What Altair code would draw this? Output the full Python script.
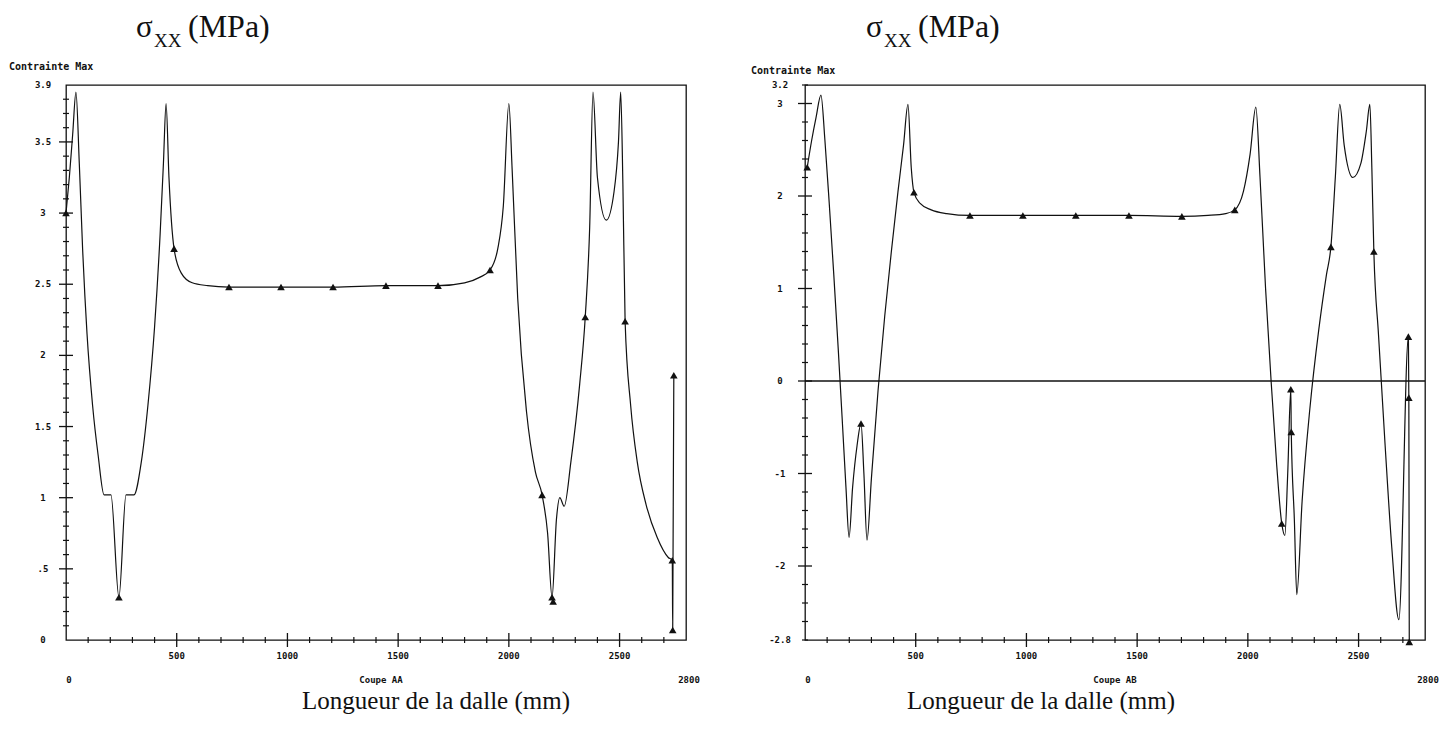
import altair as alt
import pandas as pd

# ---------------- data ----------------
# Left panel: Coupe AA  (x in mm, sigma_xx in MPa)
AA_X = [0, 15, 30, 45, 60, 75, 95, 120, 145, 172, 203, 239, 271, 307, 340, 370, 400, 425, 440, 452,
        465, 488, 520, 570, 640, 736, 971, 1206, 1445, 1680, 1800, 1870, 1915, 1950, 1975, 2000, 2015,
        2040, 2080, 2120, 2150, 2175, 2195, 2215, 2230, 2250, 2280, 2320, 2345, 2365, 2380, 2400, 2440,
        2475, 2495, 2505, 2515, 2525, 2550, 2580, 2620, 2670, 2720, 2738, 2740, 2745]
AA_Y = [3.00, 3.25, 3.55, 3.85, 3.35, 2.75, 2.15, 1.65, 1.30, 1.02, 1.02, 0.30, 1.02, 1.02, 1.25, 1.65,
        2.20, 2.85, 3.35, 3.77, 3.25, 2.75, 2.58, 2.51, 2.49, 2.48, 2.48, 2.48, 2.49, 2.49, 2.51, 2.55,
        2.60, 2.75, 3.05, 3.77, 3.30, 2.40, 1.60, 1.18, 1.02, 0.75, 0.30, 0.85, 1.00, 0.94, 1.25, 1.80,
        2.27, 2.90, 3.85, 3.25, 2.95, 3.15, 3.50, 3.85, 3.20, 2.24, 1.65, 1.25, 0.95, 0.72, 0.58, 0.56,
        0.07, 1.86]
AA_MX = [0, 239, 488, 736, 971, 1206, 1445, 1680, 1915, 2150, 2195, 2200, 2345, 2525, 2738, 2740, 2745]
AA_MY = [3.00, 0.30, 2.75, 2.48, 2.48, 2.48, 2.49, 2.49, 2.60, 1.02, 0.30, 0.27, 2.27, 2.24, 0.56, 0.07, 1.86]

# Right panel: Coupe AB
AB_X = [10, 30, 50, 72, 90, 110, 130, 150, 170, 185, 199, 215, 235, 253, 266, 280, 300, 330, 360, 390,
        420, 445, 465, 480, 492, 520, 570, 640, 745, 984, 1223, 1463, 1702, 1820, 1900, 1941, 1980, 2010,
        2036, 2055, 2080, 2105, 2130, 2153, 2167, 2180, 2194, 2196, 2210, 2221, 2245, 2280, 2320, 2355,
        2375, 2395, 2415, 2435, 2474, 2510, 2535, 2551, 2560, 2569, 2590, 2620, 2650, 2682, 2725, 2727,
        2729]
AB_Y = [2.31, 2.60, 2.85, 3.09, 2.60, 1.90, 1.15, 0.35, -0.50, -1.15, -1.69, -1.15, -0.70, -0.46, -1.00,
        -1.72, -1.05, -0.10, 0.70, 1.40, 2.05, 2.55, 2.99, 2.30, 2.04, 1.92, 1.85, 1.81, 1.79, 1.79, 1.79,
        1.79, 1.78, 1.79, 1.81, 1.85, 2.05, 2.45, 2.96, 2.20, 1.00, 0.00, -0.90, -1.54, -1.67, -1.00,
        -0.09, -0.55, -1.50, -2.31, -1.30, -0.30, 0.55, 1.15, 1.45, 2.20, 2.99, 2.55, 2.20, 2.35, 2.70,
        2.99, 2.30, 1.40, 0.50, -0.70, -1.80, -2.58, 0.48, -0.18, -2.82]
AB_MX = [10, 253, 492, 745, 984, 1223, 1463, 1702, 1941, 2153, 2194, 2196, 2375, 2569, 2725, 2727, 2729]
AB_MY = [2.31, -0.46, 2.04, 1.79, 1.79, 1.79, 1.79, 1.78, 1.85, -1.54, -0.09, -0.55, 1.45, 1.40, 0.48,
         -0.18, -2.82]

# axis ticks and labels
X_DOMAIN = [0, 2800]
X_MAJOR = [500, 1000, 1500, 2000, 2500]
X_MAJOR_LABELS = ["500", "1000", "1500", "2000", "2500"]
X_END = [0, 2800]
X_END_LABELS = ["0", "2800"]

AA_YDOM = [0, 3.9]
AA_YLAB_V = [0, 0.5, 1, 1.5, 2, 2.5, 3, 3.5, 3.9]
AA_YLAB_T = ["0", ".5", "1", "1.5", "2", "2.5", "3", "3.5", "3.9"]
AB_YDOM = [-2.8, 3.2]
AB_YLAB_V = [-2.8, -2, -1, 0, 1, 2, 3, 3.2]
AB_YLAB_T = ["-2.8", "-2", "-1", "0", "1", "2", "3", "3.2"]

W, H, GAP = 620, 555, 119
MONO = "DejaVu Sans Mono"
SERIF = "Liberation Serif"
INK = "#111111"


def panel(cx, cy, mx, my, ydom, ylv, ylt, ymaj, ymin, coupe, lay, zero_line=False):
    xs = alt.Scale(domain=X_DOMAIN, nice=False, zero=False)
    ys = alt.Scale(domain=ydom, nice=False, zero=False)

    def X(f):
        return alt.X(f, type="quantitative", scale=xs, axis=None)

    def Y(f):
        return alt.Y(f, type="quantitative", scale=ys, axis=None)

    one = pd.DataFrame({"k": [0]})
    layers = []
    curve = pd.DataFrame({"x": cx, "y": cy, "i": list(range(len(cx)))})
    layers.append(alt.Chart(curve).mark_line(color=INK, strokeWidth=1.2, interpolate="monotone").encode(
        x=X("x"), y=Y("y"), order=alt.Order("i:Q")))
    if zero_line:
        layers.append(alt.Chart(pd.DataFrame({"v": [0]})).mark_rule(color=INK, strokeWidth=1.3).encode(y=Y("v")))
    layers.append(alt.Chart(pd.DataFrame({"x": mx, "y": my})).mark_point(
        shape="triangle-up", filled=True, size=58, color=INK, opacity=1).encode(x=X("x"), y=Y("y")))
    # y ticks (crossing the axis)
    layers.append(alt.Chart(pd.DataFrame({"v": ymaj})).mark_rule(color=INK, strokeWidth=1.3).encode(
        y=Y("v"), x=alt.value(-7), x2=alt.value(7)))
    layers.append(alt.Chart(pd.DataFrame({"v": ymin})).mark_rule(color=INK, strokeWidth=1.2).encode(
        y=Y("v"), x=alt.value(-3), x2=alt.value(3)))
    # x ticks
    xmin = [v for v in range(100, 2800, 100) if v % 500 != 0]
    layers.append(alt.Chart(pd.DataFrame({"v": X_MAJOR})).mark_rule(color=INK, strokeWidth=1.3).encode(
        x=X("v"), y=alt.value(H - 7), y2=alt.value(H + 7)))
    layers.append(alt.Chart(pd.DataFrame({"v": xmin})).mark_rule(color=INK, strokeWidth=1.2).encode(
        x=X("v"), y=alt.value(H - 3), y2=alt.value(H + 3)))
    # y labels
    layers.append(alt.Chart(pd.DataFrame({"v": ylv, "t": ylt})).mark_text(
        font=MONO, fontSize=9, fontWeight="bold", color=INK, align="center", baseline="middle").encode(
        y=Y("v"), x=alt.value(lay["ylab_x"]), text="t:N"))
    # x labels
    layers.append(alt.Chart(pd.DataFrame({"v": X_MAJOR, "t": X_MAJOR_LABELS})).mark_text(
        font=MONO, fontSize=9, fontWeight="bold", color=INK, align="center", baseline="middle").encode(
        x=X("v"), y=alt.value(H + 16), text="t:N"))
    ends = pd.DataFrame({"v": X_END, "t": X_END_LABELS})
    layers.append(alt.Chart(ends).mark_text(
        font=MONO, fontSize=9, fontWeight="bold", color=INK, align="center", baseline="middle", dx=3).encode(
        x=X("v"), y=alt.value(H + 40), text="t:N"))
    # small texts
    layers.append(alt.Chart(one).mark_text(
        text=coupe, font=MONO, fontSize=9, fontWeight="bold", color=INK, align="center", baseline="middle").encode(
        x=alt.value(lay["coupe_x"]), y=alt.value(H + 40)))
    layers.append(alt.Chart(one).mark_text(
        text="Contrainte Max", font=MONO, fontSize=10, fontWeight="bold", color=INK, align="left",
        baseline="middle").encode(x=alt.value(lay["cmax_x"]), y=alt.value(lay["cmax_y"])))
    # titles
    layers.append(alt.Chart(one).mark_text(
        text="σ", font=SERIF, fontSize=31, color=INK, align="left", baseline="alphabetic").encode(
        x=alt.value(lay["sig_x"]), y=alt.value(-48)))
    layers.append(alt.Chart(one).mark_text(
        text="XX", font=SERIF, fontSize=19, color=INK, align="left", baseline="alphabetic").encode(
        x=alt.value(lay["sig_x"] + 18), y=alt.value(-38)))
    layers.append(alt.Chart(one).mark_text(
        text="(MPa)", font=SERIF, fontSize=32, color=INK, align="left", baseline="alphabetic").encode(
        x=alt.value(lay["sig_x"] + 52), y=alt.value(-48)))
    layers.append(alt.Chart(one).mark_text(
        text="Longueur de la dalle (mm)", font=SERIF, fontSize=25, color=INK, align="center",
        baseline="alphabetic").encode(x=alt.value(lay["long_x"]), y=alt.value(H + 69)))
    return alt.layer(*layers).properties(width=W, height=H)


aa_ymaj = [0.5, 1, 1.5, 2, 2.5, 3, 3.5]
aa_ymin = [round(v * 0.1, 1) for v in range(1, 39) if v % 5 != 0]
ab_ymaj = [-2, -1, 0, 1, 2, 3]
ab_ymin = [round(-2.8 + v * 0.2, 1) for v in range(0, 31)]
ab_ymin = [v for v in ab_ymin if abs(v - round(v)) > 1e-6]

left = panel(AA_X, AA_Y, AA_MX, AA_MY, AA_YDOM, AA_YLAB_V, AA_YLAB_T, aa_ymaj, aa_ymin, "Coupe AA",
             {"ylab_x": -23, "coupe_x": 315, "cmax_x": -57, "cmax_y": -18, "sig_x": 70, "long_x": 370})
right = panel(AB_X, AB_Y, AB_MX, AB_MY, AB_YDOM, AB_YLAB_V, AB_YLAB_T, ab_ymaj, ab_ymin, "Coupe AB",
              {"ylab_x": -25, "coupe_x": 310, "cmax_x": -54, "cmax_y": -14, "sig_x": 61, "long_x": 236},
              zero_line=True)

chart = alt.hconcat(left, right, spacing=GAP, bounds="flush").properties(
    padding={"left": 0, "top": 2, "right": 0, "bottom": 0}, background="white"
).configure_view(stroke=INK, strokeWidth=1.3)

chart.save("out.html", embed_options={"renderer": "svg", "actions": False})
